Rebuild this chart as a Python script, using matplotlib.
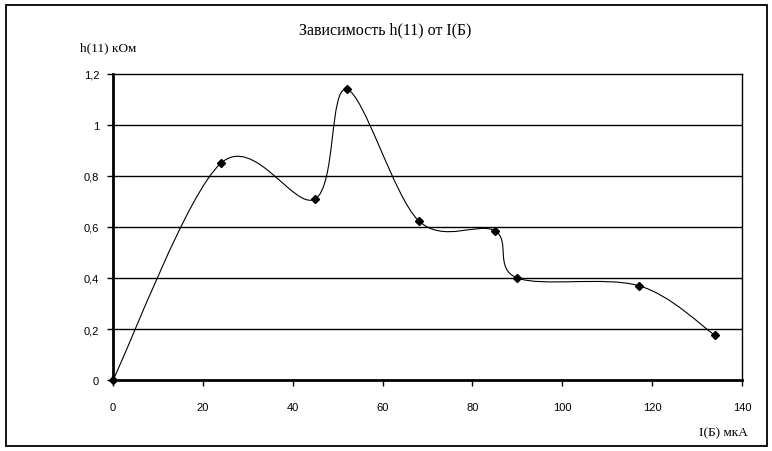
import matplotlib.pyplot as plt
from matplotlib.path import Path
from matplotlib.patches import PathPatch, Rectangle
import numpy as np

# data
i_b = [0, 24, 45, 52, 68, 85, 90, 117, 134]          # I(Б), мкА
h11 = [0, 0.85, 0.71, 1.14, 0.625, 0.585, 0.40, 0.37, 0.175]  # h(11), кОм
xticks = [0, 20, 40, 60, 80, 100, 120, 140]
yticks = [0, 0.2, 0.4, 0.6, 0.8, 1.0, 1.2]
ytick_labels = ['0', '0,2', '0,4', '0,6', '0,8', '1', '1,2']


def smooth_path(xs, ys):
    # Excel-like smoothed line: cubic Bezier with Catmull-Rom control points
    p = np.column_stack([xs, ys]).astype(float)
    n = len(p)
    verts = [p[0]]
    codes = [Path.MOVETO]
    for k in range(n - 1):
        prev = p[k - 1] if k > 0 else p[k]
        nxt = p[k + 2] if k + 2 < n else p[k + 1]
        c1 = p[k] + (p[k + 1] - prev) / 6
        c2 = p[k + 1] - (nxt - p[k]) / 6
        verts += [c1, c2, p[k + 1]]
        codes += [Path.CURVE4] * 3
    return Path(verts, codes)


fig = plt.figure(figsize=(7.72, 4.52), dpi=100)
W, H = 772, 452
ax = fig.add_axes([113 / W, 1 - 381 / H, (742 - 113) / W, (381 - 75) / H])

# outer chart border
fig.patches.append(Rectangle((5.5 / W, 1 - 447 / H), 761 / W, 441.5 / H,
                             transform=fig.transFigure, fill=False,
                             edgecolor='black', linewidth=1.3))

ax.set_xlim(0, 140)
ax.set_ylim(0, 1.2)

for y in yticks[1:-1]:
    ax.axhline(y, color='black', linewidth=1.0, zorder=1)

ax.add_patch(PathPatch(smooth_path(i_b, h11), fill=False, edgecolor='black',
                       linewidth=0.8, zorder=3))
ax.plot(i_b, h11, linestyle='none', marker='D', markersize=4.2,
        color='black', zorder=4, clip_on=False)

for side in ['top', 'right']:
    ax.spines[side].set_linewidth(1.0)
for side in ['left', 'bottom']:
    ax.spines[side].set_linewidth(2.0)
ax.spines['bottom'].set_zorder(5)
ax.spines['left'].set_zorder(5)

ax.set_xticks(xticks)
ax.set_xticklabels([str(v) for v in xticks], family='Liberation Sans', fontsize=8)
ax.set_yticks(yticks)
ax.set_yticklabels(ytick_labels, family='Liberation Sans', fontsize=8)
ax.tick_params(axis='both', direction='out', length=4, width=1, color='black')
ax.tick_params(axis='x', pad=12)
ax.tick_params(axis='y', pad=6)

fig.text(385 / W, 1 - 30 / H, 'Зависимость h(11) от I(Б)', ha='center',
         va='center', family='Liberation Serif', fontsize=11.5)
fig.text(80 / W, 1 - 48 / H, 'h(11) кОм', ha='left', va='center',
         family='Liberation Serif', fontsize=9.5)
fig.text(748 / W, 1 - 433 / H, 'I(Б) мкА', ha='right', va='center',
         family='Liberation Serif', fontsize=9.5)

fig.savefig('out.png', dpi=100)
